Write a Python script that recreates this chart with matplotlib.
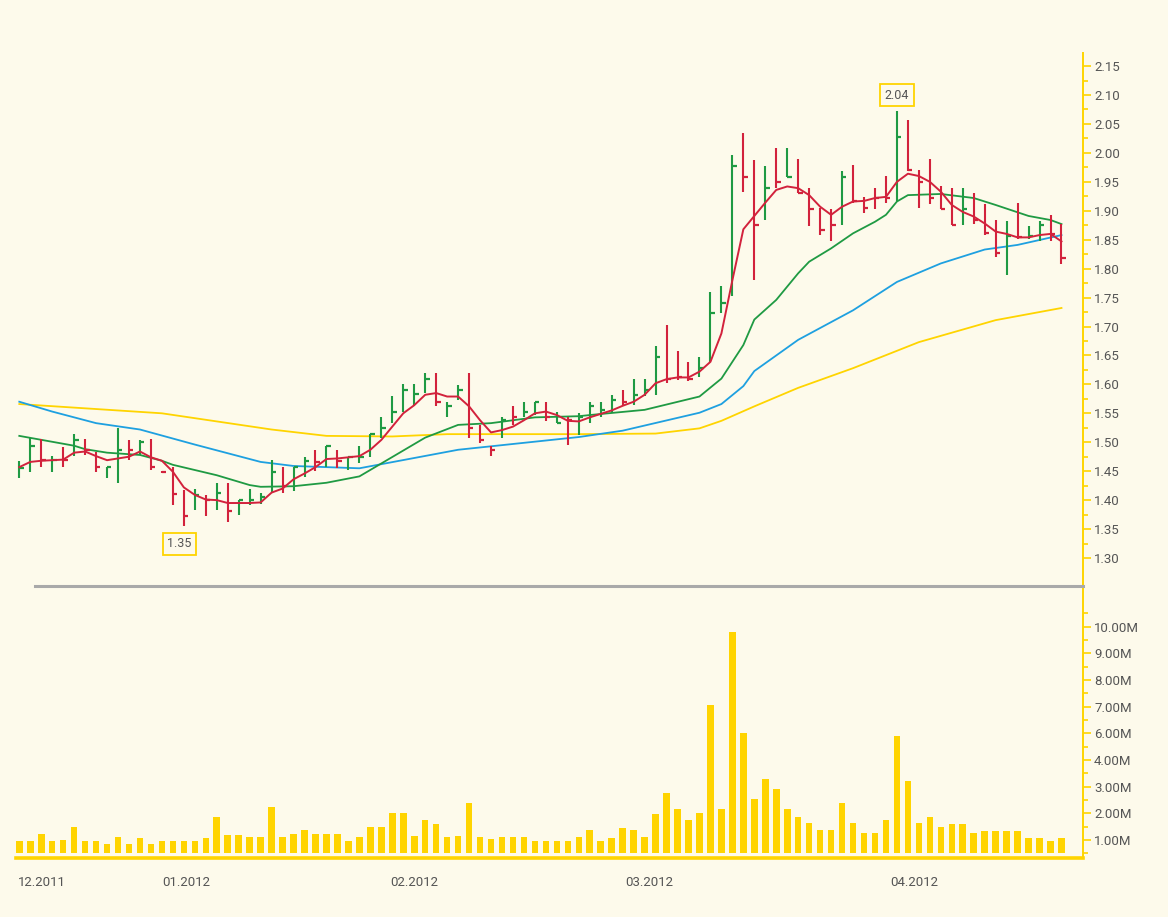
import numpy as np
import matplotlib
matplotlib.use("Agg")
import matplotlib.pyplot as plt
from matplotlib.lines import Line2D

plt.rcParams["font.family"] = ["Roboto", "DejaVu Sans"]

# daily bars (high / low / close), up = close above open
high = [1.468, 1.507, 1.505, 1.476, 1.492, 1.514, 1.505, 1.484, 1.457, 1.524,
        1.504, 1.504, 1.505, 1.450, 1.458, 1.418, 1.420, 1.409, 1.429, 1.429,
        1.400, 1.420, 1.412, 1.469, 1.458, 1.458, 1.475, 1.487, 1.493, 1.487,
        1.475, 1.493, 1.514, 1.543, 1.580, 1.601, 1.601, 1.619, 1.620, 1.570,
        1.599, 1.619, 1.530, 1.493, 1.543, 1.562, 1.570, 1.570, 1.570, 1.553,
        1.544, 1.550, 1.570, 1.570, 1.582, 1.590, 1.609, 1.609, 1.666, 1.703,
        1.658, 1.638, 1.647, 1.760, 1.770, 1.996, 2.035, 1.987, 1.977, 2.008,
        2.008, 1.989, 1.940, 1.904, 1.903, 1.969, 1.979, 1.923, 1.940, 1.960,
        2.073, 2.056, 1.970, 1.989, 1.943, 1.939, 1.940, 1.931, 1.912, 1.884,
        1.883, 1.913, 1.874, 1.883, 1.893, 1.877]
low = [1.439, 1.449, 1.458, 1.449, 1.458, 1.476, 1.478, 1.449, 1.438, 1.429,
       1.469, 1.478, 1.452, 1.446, 1.392, 1.356, 1.383, 1.373, 1.383, 1.363,
       1.374, 1.392, 1.393, 1.412, 1.412, 1.415, 1.440, 1.450, 1.458, 1.455,
       1.452, 1.464, 1.475, 1.507, 1.533, 1.553, 1.564, 1.585, 1.562, 1.544,
       1.573, 1.507, 1.498, 1.476, 1.507, 1.530, 1.544, 1.547, 1.536, 1.533,
       1.495, 1.513, 1.533, 1.544, 1.550, 1.562, 1.564, 1.580, 1.582, 1.602,
       1.608, 1.605, 1.613, 1.639, 1.723, 1.752, 1.933, 1.780, 1.884, 1.940,
       1.958, 1.931, 1.874, 1.858, 1.847, 1.875, 1.913, 1.896, 1.903, 1.914,
       1.916, 1.969, 1.904, 1.912, 1.903, 1.875, 1.875, 1.877, 1.858, 1.820,
       1.789, 1.852, 1.852, 1.847, 1.847, 1.808]
close = [1.455, 1.494, 1.469, 1.469, 1.469, 1.504, 1.487, 1.458, 1.457, 1.487,
         1.487, 1.501, 1.458, 1.448, 1.410, 1.373, 1.409, 1.401, 1.412, 1.382,
         1.400, 1.401, 1.405, 1.449, 1.424, 1.458, 1.468, 1.466, 1.493, 1.468,
         1.475, 1.475, 1.514, 1.524, 1.553, 1.590, 1.583, 1.610, 1.570, 1.563,
         1.590, 1.524, 1.504, 1.487, 1.538, 1.543, 1.553, 1.570, 1.544, 1.534,
         1.538, 1.544, 1.562, 1.556, 1.573, 1.570, 1.582, 1.590, 1.647, 1.609,
         1.612, 1.609, 1.629, 1.723, 1.741, 1.977, 1.959, 1.875, 1.940, 1.950,
         1.958, 1.931, 1.903, 1.866, 1.875, 1.959, 1.917, 1.904, 1.922, 1.922,
         2.027, 1.970, 1.950, 1.922, 1.903, 1.875, 1.903, 1.884, 1.862, 1.827,
         1.857, 1.855, 1.857, 1.875, 1.860, 1.818]
up = [1, 1, 0, 1, 0, 1, 0, 0, 1, 1, 0, 1, 0, 0, 0, 0, 1, 0, 1, 0,
      1, 1, 1, 1, 0, 1, 1, 0, 1, 0, 1, 1, 1, 1, 1, 1, 1, 1, 0, 1,
      1, 0, 0, 0, 1, 0, 1, 1, 0, 1, 0, 1, 1, 1, 1, 0, 1, 1, 1, 0,
      0, 0, 1, 1, 1, 1, 0, 0, 1, 0, 1, 0, 0, 0, 0, 1, 0, 0, 0, 0,
      1, 0, 0, 0, 0, 0, 1, 0, 0, 0, 1, 0, 1, 1, 0, 0]

# volume, read against the axis tick positions
volume = [0.97, 0.97, 1.24, 0.97, 1.01, 1.50, 0.97, 0.97, 0.86, 1.12,
          0.86, 1.09, 0.86, 0.97, 0.97, 0.97, 0.97, 1.09, 1.87, 1.20,
          1.20, 1.12, 1.12, 2.25, 1.12, 1.24, 1.39, 1.24, 1.24, 1.24,
          0.97, 1.12, 1.50, 1.50, 2.02, 2.02, 1.16, 1.76, 1.61, 1.12,
          1.16, 2.40, 1.12, 1.05, 1.12, 1.12, 1.12, 0.97, 0.97, 0.97,
          0.97, 1.12, 1.39, 0.97, 1.09, 1.46, 1.39, 1.12, 1.98, 2.77,
          2.17, 1.76, 2.03, 6.07, 2.17, 8.81, 5.02, 2.55, 3.30, 2.92,
          2.17, 1.87, 1.65, 1.39, 1.39, 2.40, 1.65, 1.27, 1.27, 1.76,
          4.91, 3.22, 1.65, 1.87, 1.50, 1.61, 1.61, 1.27, 1.35, 1.35,
          1.35, 1.35, 1.09, 1.09, 0.97, 1.09]

# moving averages
ma_fast = [1.457, 1.466, 1.468, 1.469, 1.470, 1.482, 1.484, 1.476, 1.469, 1.472,
           1.475, 1.484, 1.474, 1.468, 1.449, 1.422, 1.409, 1.401, 1.400, 1.395,
           1.395, 1.395, 1.396, 1.413, 1.420, 1.436, 1.446, 1.457, 1.471, 1.472,
           1.474, 1.476, 1.487, 1.504, 1.527, 1.550, 1.564, 1.582, 1.585, 1.579,
           1.579, 1.562, 1.538, 1.517, 1.521, 1.527, 1.538, 1.550, 1.553, 1.547,
           1.537, 1.536, 1.543, 1.549, 1.555, 1.563, 1.570, 1.582, 1.602, 1.609,
           1.612, 1.612, 1.622, 1.639, 1.688, 1.780, 1.868, 1.891, 1.914, 1.936,
           1.942, 1.939, 1.927, 1.907, 1.893, 1.907, 1.916, 1.917, 1.922, 1.924,
           1.950, 1.964, 1.960, 1.950, 1.933, 1.910, 1.898, 1.890, 1.878, 1.864,
           1.860, 1.854, 1.854, 1.858, 1.860, 1.847]

ma_mid_idx = [0, 5, 6, 8, 11, 13, 14, 16, 18, 21, 22, 25, 28, 31, 37, 40, 43, 47,
              51, 52, 57, 62, 64, 66, 67, 69, 71, 72, 74, 76, 78, 79, 80, 81, 84,
              87, 89, 92, 94, 95]
ma_mid = [1.511, 1.494, 1.488, 1.482, 1.478, 1.468, 1.461, 1.452, 1.443, 1.426,
          1.423, 1.424, 1.430, 1.441, 1.508, 1.530, 1.533, 1.543, 1.545, 1.547,
          1.556, 1.579, 1.610, 1.668, 1.712, 1.746, 1.792, 1.812, 1.835, 1.861,
          1.881, 1.893, 1.916, 1.927, 1.929, 1.922, 1.910, 1.891, 1.884, 1.877]

ma_slow_idx = [0, 3, 7, 11, 16, 22, 25, 31, 40, 51, 55, 62, 64, 66, 67, 71, 76,
               80, 84, 88, 91, 95]
ma_slow = [1.570, 1.553, 1.533, 1.522, 1.496, 1.466, 1.459, 1.455, 1.487, 1.509,
           1.520, 1.551, 1.566, 1.597, 1.623, 1.677, 1.728, 1.777, 1.809, 1.833,
           1.841, 1.858]

ma_long_idx = [0, 13, 23, 28, 34, 39, 51, 58, 62, 64, 67, 71, 76, 82, 89, 95]
ma_long = [1.566, 1.550, 1.522, 1.511, 1.510, 1.514, 1.514, 1.515, 1.524, 1.537,
           1.562, 1.594, 1.628, 1.673, 1.711, 1.732]

month_labels = ["12.2011", "01.2012", "02.2012", "03.2012", "04.2012"]
month_pos = [-0.1, 13.0, 33.8, 55.2, 79.4]

vol_ticks = [1, 2, 3, 4, 5, 6, 7, 8, 9]
vol_tick_labels = ["1.00M", "2.00M", "3.00M", "4.00M", "6.00M",
                   "7.00M", "8.00M", "9.00M", "10.00M"]

BG = "#FDFAEB"
YELLOW = "#FFD400"
GREEN = "#1F9A43"
RED = "#D2223C"
BLUE = "#1EA0E0"
TEXT = "#555555"

W, H = 1168, 917
fig = plt.figure(figsize=(W / 100, H / 100), dpi=100, facecolor=BG)
ax = fig.add_axes([16 / W, 1 - 586 / H, (1083 - 16) / W, (586 - 53) / H])
axv = fig.add_axes([16 / W, 1 - 858 / H, (1083 - 16) / W, (858 - 586) / H])

x = np.arange(len(close))
colors = [GREEN if u else RED for u in up]

# price panel
ax.set_facecolor(BG)
ax.plot(ma_long_idx, ma_long, color=YELLOW, lw=1.3, zorder=2)
ax.plot(ma_slow_idx, ma_slow, color=BLUE, lw=1.3, zorder=2)
ax.plot(ma_mid_idx, ma_mid, color=GREEN, lw=1.3, zorder=2)
ax.vlines(x, low, high, colors=colors, lw=1.5, zorder=3)
ax.hlines(close, x, x + 0.4, colors=colors, lw=1.6, zorder=3)
ax.plot(x, ma_fast, color=RED, lw=1.4, zorder=4)

ax.set_xlim(-0.3, 96.96)
ax.set_ylim(1.2516, 2.1726)
ax.set_yticks(np.arange(1.30, 2.151, 0.05))
ax.set_yticks(np.arange(1.325, 2.16, 0.05), minor=True)
ax.yaxis.set_major_formatter(matplotlib.ticker.FormatStrFormatter("%.2f"))
ax.yaxis.tick_right()
ax.set_xticks([])
for s in ["left", "top", "bottom"]:
    ax.spines[s].set_visible(False)
ax.spines["right"].set_color(YELLOW)
ax.spines["right"].set_linewidth(1.4)
ax.tick_params(axis="y", which="major", colors=YELLOW, length=6, width=1.2,
               labelcolor=TEXT, labelsize=9.5, pad=2)
ax.tick_params(axis="y", which="minor", colors=YELLOW, length=3.5, width=1.2)

box = dict(boxstyle="square,pad=0.35", fc=BG, ec=YELLOW, lw=1.3)
ax.annotate("2.04", xy=(80, high[80]), xytext=(0, 11), textcoords="offset points",
            ha="center", va="center", fontsize=9, color=TEXT, bbox=box)
ax.annotate("1.35", xy=(15, low[15]), xytext=(-3, -13), textcoords="offset points",
            ha="center", va="center", fontsize=9, color=TEXT, bbox=box)

# volume panel
axv.set_facecolor("none")
vol_base = 0.51
axv.bar(x, np.array(volume) - vol_base, bottom=vol_base, width=0.6,
        color=YELLOW, zorder=2)
axv.set_xlim(-0.3, 96.96)
axv.set_ylim(0.3246, 10.53)
axv.set_yticks(vol_ticks, vol_tick_labels)
axv.set_yticks(np.arange(0.5, 10.0, 1.0), minor=True)
axv.yaxis.tick_right()
for s in ["left", "top"]:
    axv.spines[s].set_visible(False)
axv.spines["right"].set_color(YELLOW)
axv.spines["right"].set_linewidth(1.4)
axv.spines["bottom"].set_color(YELLOW)
axv.spines["bottom"].set_linewidth(2.6)
axv.tick_params(axis="y", which="major", colors=YELLOW, length=6, width=1.2,
                labelcolor=TEXT, labelsize=9.5, pad=2)
axv.tick_params(axis="y", which="minor", colors=YELLOW, length=3.5, width=1.2)
axv.set_xticks(month_pos, month_labels)
axv.tick_params(axis="x", length=0, pad=13, labelcolor=TEXT, labelsize=9.5)
for lab in axv.get_xticklabels():
    lab.set_horizontalalignment("left")

# separator between panels
fig.add_artist(Line2D([35 / W, 1083 / W], [1 - 586 / H, 1 - 586 / H],
                      color="#A9A9A9", lw=2.2, zorder=5))

fig.savefig("out.png", dpi=100, facecolor=BG)
